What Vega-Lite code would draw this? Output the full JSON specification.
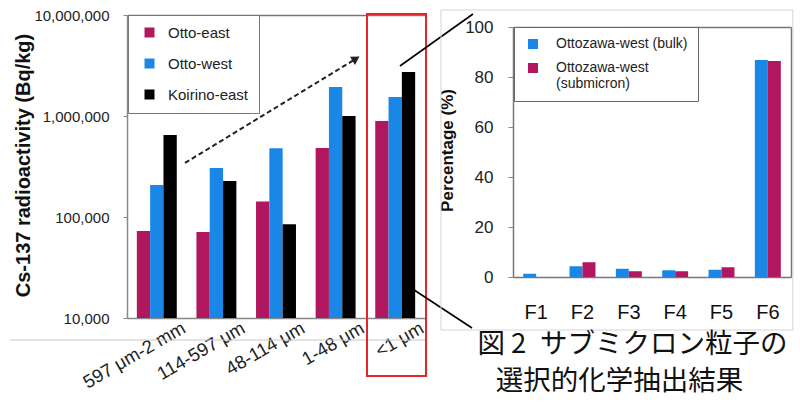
{
  "$schema": "https://vega.github.io/schema/vega-lite/v6.json",
  "width": 800,
  "height": 403,
  "autosize": "none",
  "padding": 0,
  "background": "white",
  "config": {
    "view": {"stroke": null},
    "font": "Liberation Sans",
    "axis": {"grid": false, "labelColor": "#222", "titleColor": "#111"}
  },
  "datasets": {
    "activity": [
      {"size": "597 μm-2 mm", "site": "Otto-east", "value": 72600},
      {"size": "597 μm-2 mm", "site": "Otto-west", "value": 207000},
      {"size": "597 μm-2 mm", "site": "Koirino-east", "value": 649000},
      {"size": "114-597 μm", "site": "Otto-east", "value": 71000},
      {"size": "114-597 μm", "site": "Otto-west", "value": 305000},
      {"size": "114-597 μm", "site": "Koirino-east", "value": 227000},
      {"size": "48-114 μm", "site": "Otto-east", "value": 142000},
      {"size": "48-114 μm", "site": "Otto-west", "value": 479000},
      {"size": "48-114 μm", "site": "Koirino-east", "value": 84700},
      {"size": "1-48 μm", "site": "Otto-east", "value": 482000},
      {"size": "1-48 μm", "site": "Otto-west", "value": 1937000},
      {"size": "1-48 μm", "site": "Koirino-east", "value": 1000000},
      {"size": "<1 μm", "site": "Otto-east", "value": 891000},
      {"size": "<1 μm", "site": "Otto-west", "value": 1542000},
      {"size": "<1 μm", "site": "Koirino-east", "value": 2729000}
    ],
    "fractions": [
      {"fraction": "F1", "sample": "Ottozawa-west (bulk)", "pct": 1.3},
      {"fraction": "F1", "sample": "Ottozawa-west (submicron)", "pct": 0},
      {"fraction": "F2", "sample": "Ottozawa-west (bulk)", "pct": 4.3},
      {"fraction": "F2", "sample": "Ottozawa-west (submicron)", "pct": 5.9},
      {"fraction": "F3", "sample": "Ottozawa-west (bulk)", "pct": 3.3},
      {"fraction": "F3", "sample": "Ottozawa-west (submicron)", "pct": 2.3},
      {"fraction": "F4", "sample": "Ottozawa-west (bulk)", "pct": 2.7},
      {"fraction": "F4", "sample": "Ottozawa-west (submicron)", "pct": 2.3},
      {"fraction": "F5", "sample": "Ottozawa-west (bulk)", "pct": 2.9},
      {"fraction": "F5", "sample": "Ottozawa-west (submicron)", "pct": 3.9},
      {"fraction": "F6", "sample": "Ottozawa-west (bulk)", "pct": 86.8},
      {"fraction": "F6", "sample": "Ottozawa-west (submicron)", "pct": 86.4}
    ]
  },
  "layer": [
    {
      "data": {"name": "activity"},
      "mark": {"type": "bar"},
      "encoding": {
        "x": {
          "field": "size", "type": "nominal",
          "sort": ["597 μm-2 mm", "114-597 μm", "48-114 μm", "1-48 μm", "<1 μm"],
          "scale": {"range": [127, 425], "paddingInner": 0.33, "paddingOuter": 0.165},
          "axis": {
            "orient": "bottom", "offset": -85, "title": null, "ticks": false,
            "domainColor": "#888", "domainWidth": 1.5,
            "labelAngle": -30, "labelAlign": "right", "labelBaseline": "middle",
            "labelOffset": 27, "labelPadding": 8, "labelFontSize": 18.5,
            "labelOverlap": false, "labelFlush": false, "labelLimit": 300
          }
        },
        "xOffset": {
          "field": "site", "type": "nominal",
          "sort": ["Otto-east", "Otto-west", "Koirino-east"],
          "scale": {"paddingInner": 0, "paddingOuter": 0}
        },
        "y": {
          "field": "value", "type": "quantitative", "stack": null,
          "scale": {"type": "log", "domain": [10000, 10000000], "range": [318, 15], "nice": false},
          "axis": {
            "orient": "left", "offset": -127, "values": [10000, 100000, 1000000, 10000000],
            "format": ",d", "domainColor": "#888", "domainWidth": 1.5,
            "tickColor": "#888", "tickSize": 4, "labelPadding": 14, "labelFontSize": 15,
            "title": "Cs-137 radioactivity (Bq/kg)", "titleFontSize": 20, "titleFontWeight": "bold",
            "titleX": -104, "titleY": 165, "titleAngle": -90, "titleAlign": "center", "titleBaseline": "middle"
          }
        },
        "y2": {"datum": 10000},
        "color": {
          "field": "site", "type": "nominal",
          "scale": {"domain": ["Otto-east", "Otto-west", "Koirino-east"], "range": ["#B0175E", "#1A87E6", "#000000"]},
          "legend": {
            "orient": "none", "legendX": 128, "legendY": 15, "title": null,
            "symbolType": "square", "symbolSize": 100, "symbolOffset": 4, "symbolStrokeWidth": 0,
            "labelFontSize": 15, "labelOffset": 11, "labelColor": "#222", "rowPadding": 15,
            "padding": 10, "strokeColor": "#777", "fillColor": "white"
          }
        }
      }
    },
    {
      "layer": [
        {
          "data": {"values": [{"x": 0.973, "y": 342700, "x2": 3.842, "y2": 3690000}]},
          "mark": {"type": "rule", "strokeDash": [5, 3], "strokeWidth": 2, "color": "#222"},
          "encoding": {
            "x": {
              "field": "x", "type": "quantitative",
              "scale": {"domain": [0, 5], "range": [127, 425], "nice": false, "zero": false},
              "axis": {"orient": "top", "offset": -15, "labels": false, "ticks": false, "title": null, "domainColor": "#777", "domainWidth": 1.5}
            },
            "x2": {"field": "x2"},
            "y": {
              "field": "y", "type": "quantitative",
              "scale": {"type": "log", "domain": [10000, 10000000], "range": [318, 15], "nice": false},
              "axis": null
            },
            "y2": {"field": "y2"}
          }
        },
        {
          "data": {"values": [{"x": 3.842, "y": 3690000}]},
          "mark": {"type": "point", "shape": "triangle-right", "angle": -31.4, "filled": true, "size": 90, "color": "#222", "opacity": 1},
          "encoding": {
            "x": {"field": "x", "type": "quantitative"},
            "y": {"field": "y", "type": "quantitative"}
          }
        },
        {
          "data": {"values": [{"x": -1.96, "y": 6050, "x2": 5.0, "y2": 6050}]},
          "mark": {"type": "rule", "strokeWidth": 1, "color": "#c8c8c8"},
          "encoding": {
            "x": {"field": "x", "type": "quantitative"},
            "x2": {"field": "x2"},
            "y": {"field": "y", "type": "quantitative"},
            "y2": {"field": "y2"}
          }
        },
        {
          "data": {"values": [{"x": 4.027, "y": 10230000, "x2": 5.017, "y2": 2667}]},
          "mark": {"type": "rect", "fill": null, "fillOpacity": 0, "stroke": "#E4262B", "strokeWidth": 2},
          "encoding": {
            "x": {"field": "x", "type": "quantitative"},
            "x2": {"field": "x2"},
            "y": {"field": "y", "type": "quantitative"},
            "y2": {"field": "y2"}
          }
        },
        {
          "data": {"values": [
            {"x": 4.58, "y": 3126000, "x2": 5.805, "y2": 10230000},
            {"x": 4.614, "y": 22700, "x2": 5.789, "y2": 7960}
          ]},
          "mark": {"type": "rule", "strokeWidth": 1.6, "color": "#000"},
          "encoding": {
            "x": {"field": "x", "type": "quantitative"},
            "x2": {"field": "x2"},
            "y": {"field": "y", "type": "quantitative"},
            "y2": {"field": "y2"}
          }
        }
      ]
    },
    {
      "data": {"name": "fractions"},
      "mark": {"type": "bar"},
      "encoding": {
        "x": {
          "field": "fraction", "type": "nominal",
          "scale": {"range": [513, 791], "paddingInner": 0.44, "paddingOuter": 0.22},
          "axis": {
            "orient": "bottom", "offset": -126, "title": null, "ticks": false,
            "domainColor": "#777", "domainWidth": 1.5, "labelAngle": 0,
            "labelFontSize": 20, "labelPadding": 25, "labelColor": "#111"
          }
        },
        "xOffset": {
          "field": "sample", "type": "nominal",
          "sort": ["Ottozawa-west (bulk)", "Ottozawa-west (submicron)"],
          "scale": {"paddingInner": 0, "paddingOuter": 0}
        },
        "y": {
          "field": "pct", "type": "quantitative", "stack": null,
          "scale": {"domain": [0, 100], "range": [277, 27], "nice": false},
          "axis": {
            "orient": "left", "offset": -513, "values": [0, 20, 40, 60, 80, 100],
            "domainColor": "#777", "domainWidth": 1.5, "tickColor": "#888", "tickSize": 5,
            "labelPadding": 15, "labelFontSize": 17,
            "title": "Percentage (%)", "titleFontSize": 17, "titleFontWeight": "bold",
            "titleX": -66, "titleY": 150, "titleAngle": -90, "titleAlign": "center", "titleBaseline": "middle"
          }
        },
        "color": {
          "field": "sample", "type": "nominal",
          "scale": {"domain": ["Ottozawa-west (bulk)", "Ottozawa-west (submicron)"], "range": ["#1A87E6", "#B0175E"]},
          "legend": {
            "orient": "none", "legendX": 514, "legendY": 27, "title": null,
            "symbolType": "square", "symbolSize": 100, "symbolOffset": 2, "symbolStrokeWidth": 0,
            "labelFontSize": 14, "labelOffset": 16, "labelColor": "#222", "rowPadding": 10,
            "labelExpr": "datum.label == 'Ottozawa-west (submicron)' ? ['Ottozawa-west', '(submicron)'] : datum.label",
            "labelLimit": 300,
            "padding": 10, "strokeColor": "#666", "fillColor": "white"
          }
        }
      }
    },
    {
      "layer": [
        {
          "data": {"values": [{"x": -1.554, "y": 106.8, "x2": 6.04, "y2": -21.2}]},
          "mark": {"type": "rect", "fill": null, "fillOpacity": 0, "stroke": "#d4d4d4", "strokeWidth": 1},
          "encoding": {
            "x": {
              "field": "x", "type": "quantitative",
              "scale": {"domain": [0, 6], "range": [513, 791], "nice": false, "zero": false},
              "axis": {"orient": "top", "offset": -27, "labels": false, "ticks": false, "title": null, "domainColor": "#777", "domainWidth": 1.5}
            },
            "x2": {"field": "x2"},
            "y": {
              "field": "y", "type": "quantitative",
              "scale": {"domain": [0, 100], "range": [277, 27], "nice": false, "zero": false},
              "axis": {"orient": "right", "offset": -9, "labels": false, "ticks": false, "title": null, "domainColor": "#777", "domainWidth": 1.5}
            },
            "y2": {"field": "y2"}
          }
        },
        {
          "data": {"values": [
            {"x": 2.579, "y": -27.2, "text": "図 2\u2002サブミクロン粒子の"},
            {"x": 2.299, "y": -42.0, "text": "選択的化学抽出結果"}
          ]},
          "mark": {"type": "text", "font": "Noto Sans CJK JP", "fontSize": 27.5, "align": "center", "baseline": "middle", "color": "#111"},
          "encoding": {
            "x": {"field": "x", "type": "quantitative"},
            "y": {"field": "y", "type": "quantitative"},
            "text": {"field": "text"}
          }
        }
      ]
    }
  ],
  "resolve": {
    "scale": {"x": "independent", "y": "independent", "xOffset": "independent", "color": "independent"},
    "axis": {"x": "independent", "y": "independent"},
    "legend": {"color": "independent"}
  }
}
